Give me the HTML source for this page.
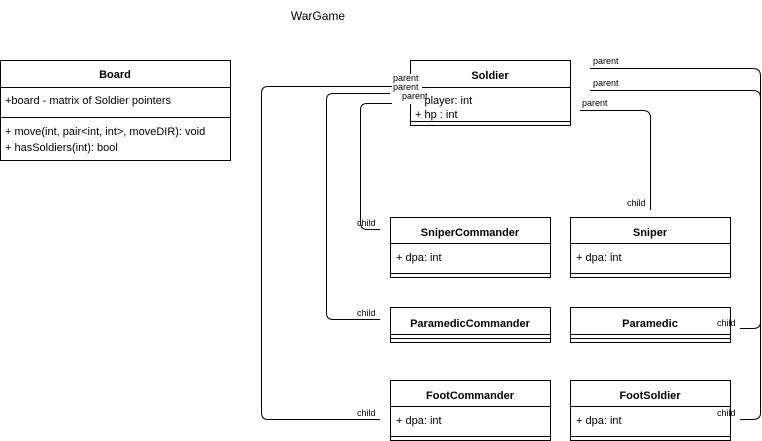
<!DOCTYPE html>
<html><head><meta charset="utf-8"><style>html,body{margin:0;padding:0;background:#fff}svg{display:block}</style></head>
<body>
<svg width="762" height="441" viewBox="0 0 762 441" xmlns="http://www.w3.org/2000/svg" font-family="Liberation Sans, Arial, sans-serif" font-size="11">
<g fill="none" stroke="#000" stroke-width="1">
<!-- Board -->
<rect x="0.5" y="60.5" width="230" height="100"/>
<line x1="0" y1="87.5" x2="230" y2="87.5"/>
<line x1="0" y1="117.5" x2="230" y2="117.5"/>
<!-- Soldier -->
<rect x="410.5" y="60.5" width="160" height="65"/>
<line x1="410" y1="87.5" x2="570" y2="87.5"/>
<line x1="410" y1="121.5" x2="570" y2="121.5"/>
<!-- SniperCommander -->
<rect x="390.5" y="217.5" width="160" height="60"/>
<line x1="390" y1="243.5" x2="550" y2="243.5"/>
<line x1="390" y1="273.5" x2="550" y2="273.5"/>
<!-- Sniper -->
<rect x="570.5" y="217.5" width="160" height="60"/>
<line x1="570" y1="243.5" x2="730" y2="243.5"/>
<line x1="570" y1="273.5" x2="730" y2="273.5"/>
<!-- ParamedicCommander -->
<rect x="390.5" y="307.5" width="160" height="35"/>
<line x1="390" y1="334.5" x2="550" y2="334.5"/>
<line x1="390" y1="338.5" x2="550" y2="338.5"/>
<!-- Paramedic -->
<rect x="570.5" y="307.5" width="160" height="35"/>
<line x1="570" y1="334.5" x2="730" y2="334.5"/>
<line x1="570" y1="338.5" x2="730" y2="338.5"/>
<!-- FootCommander -->
<rect x="390.5" y="380.5" width="160" height="60"/>
<line x1="390" y1="406.5" x2="550" y2="406.5"/>
<line x1="390" y1="436.5" x2="550" y2="436.5"/>
<!-- FootSoldier -->
<rect x="570.5" y="380.5" width="160" height="60"/>
<line x1="570" y1="406.5" x2="730" y2="406.5"/>
<line x1="570" y1="436.5" x2="730" y2="436.5"/>
<!-- connectors -->
<path d="M410 86.5 H268 Q261.5 86.5 261.5 93 V413 Q261.5 419.5 268 419.5 H380"/>
<path d="M390 93.5 H333 Q326.5 93.5 326.5 100 V313 Q326.5 319.5 333 319.5 H380"/>
<path d="M400 103.5 H367 Q360.5 103.5 360.5 110 V222 Q360.5 229.5 367 229.5 H380"/>
<path d="M580 110.5 H643 Q650.5 110.5 650.5 118 V210"/>
<path d="M590 68.5 H753 Q760.5 68.5 760.5 76 V322 Q760.5 328.5 753 328.5 H740"/>
<path d="M590 90.5 H753 Q760.5 90.5 760.5 98 V413 Q760.5 419.5 753 419.5 H740"/>
</g>
<g fill="#000">
<text x="318" y="20" font-size="12" text-anchor="middle">WarGame</text>
<text x="115" y="78" font-weight="bold" text-anchor="middle">Board</text>
<text x="5" y="104">+board -  matrix of Soldier pointers</text>
<text x="5" y="135">+ move(int, pair&lt;int, int&gt;, moveDIR): void</text>
<text x="5" y="151">+ hasSoldiers(int): bool</text>
<text x="490" y="79" font-weight="bold" text-anchor="middle">Soldier</text>
<text x="415" y="104">+ player: int</text>
<text x="415" y="118">+ hp : int</text>
<text x="470" y="236" font-weight="bold" text-anchor="middle">SniperCommander</text>
<text x="396" y="261">+ dpa: int</text>
<text x="650" y="236" font-weight="bold" text-anchor="middle">Sniper</text>
<text x="576" y="261">+ dpa: int</text>
<text x="470" y="327" font-weight="bold" text-anchor="middle">ParamedicCommander</text>
<text x="650" y="327" font-weight="bold" text-anchor="middle">Paramedic</text>
<text x="470" y="399" font-weight="bold" text-anchor="middle">FootCommander</text>
<text x="396" y="424">+ dpa: int</text>
<text x="650" y="399" font-weight="bold" text-anchor="middle">FootSoldier</text>
<text x="576" y="424">+ dpa: int</text>
</g>
<g fill="#000" font-size="9">
<rect x="392" y="74" width="30" height="30" fill="#fff"/>
<text x="393" y="81">parent</text>
<text x="393" y="90">parent</text>
<text x="402" y="99">parent</text>
<text x="593" y="64">parent</text>
<text x="593" y="86">parent</text>
<text x="582" y="106">parent</text>
<text x="627" y="206">child</text>
<text x="357" y="226">child</text>
<text x="357" y="316">child</text>
<text x="357" y="416">child</text>
<text x="717" y="326">child</text>
<text x="717" y="416">child</text>
</g>
</svg>
</body></html>
